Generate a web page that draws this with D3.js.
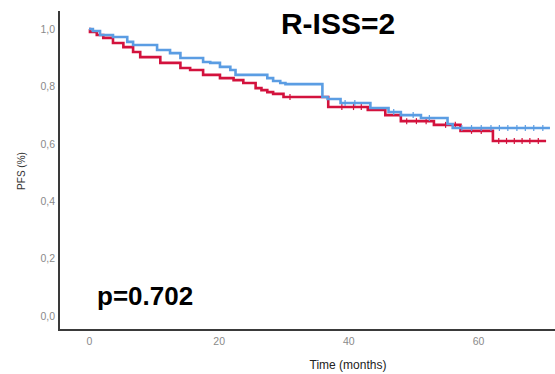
<!DOCTYPE html>
<html lang="en">
<script src="https://d3js.org/d3.v7.min.js"></script>
<head>
    <meta charset="UTF-8">
    <title>R-ISS=2</title>
    <style>
        body { margin: 0; background: #fff; }
        svg { display: block; font-family: "Liberation Sans", Arial, sans-serif; }
    </style>
</head>
<body>
    <svg width="555" height="374" id="chart"></svg>

    <script>
        // data
        const blueTimes = [0, 0.6, 1.7, 3.7, 5.9, 6.8, 10.5, 12.5, 14.1, 17.6, 18.7, 20.2, 21.8, 22.6, 27.5, 28.4, 29.5, 30.3, 36.0, 36.8, 38.8, 43.4, 46.2, 48.1, 51.2, 55.3, 56.1, 71.1];
        const blueSurv  = [1.0, 0.993, 0.979, 0.972, 0.955, 0.944, 0.927, 0.916, 0.899, 0.885, 0.882, 0.868, 0.857, 0.840, 0.829, 0.819, 0.812, 0.808, 0.763, 0.756, 0.742, 0.725, 0.711, 0.700, 0.690, 0.669, 0.655, 0.655];
        const redTimes  = [0, 0.15, 1.2, 2.2, 3.7, 5.3, 6.8, 7.9, 11.0, 14.1, 15.6, 17.6, 20.2, 22.3, 23.8, 25.7, 26.6, 27.5, 28.4, 30.0, 36.9, 43.0, 45.7, 48.1, 53.2, 57.3, 62.3, 70.5];
        const redSurv   = [1.0, 0.990, 0.979, 0.969, 0.951, 0.937, 0.920, 0.902, 0.882, 0.864, 0.857, 0.840, 0.829, 0.822, 0.812, 0.794, 0.787, 0.780, 0.774, 0.763, 0.728, 0.718, 0.700, 0.679, 0.666, 0.645, 0.610, 0.610];
        const blueCensor = [39.5, 41, 47, 50, 52.5, 57.5, 59, 60.5, 62, 63.3, 64.6, 66, 67.3, 68.6, 70];
        const redCensor  = [31, 39, 40.8, 42, 49, 50.5, 52, 55, 56.5, 59, 60.5, 63.2, 64.4, 65.6, 66.8, 68, 69.3];
        const xTicks = [0, 20, 40, 60];
        const yTicks = [0, 0.2, 0.4, 0.6, 0.8, 1.0];

        const svg = d3.select('#chart');

        const x = d3.scaleLinear().domain([0, 60]).range([89, 478]);
        const y = d3.scaleLinear().domain([0, 1]).range([316, 29]);

        const blueColor = "#5b9de3";
        const redColor = "#d3123d";

        // axes lines
        svg.append("line")
            .attr("x1", 59).attr("y1", 11)
            .attr("x2", 59).attr("y2", 330)
            .attr("stroke", "#3a3a3a").attr("stroke-width", 2);
        svg.append("line")
            .attr("x1", 58).attr("y1", 330)
            .attr("x2", 555).attr("y2", 330)
            .attr("stroke", "#3a3a3a").attr("stroke-width", 2);

        // tick labels
        const yAxis = d3.axisLeft(y).tickValues(yTicks).tickSize(0).tickPadding(0)
            .tickFormat(d => d3.format(".1f")(d).replace(".", ","));
        const gy = svg.append("g").attr("transform", "translate(55,0)").call(yAxis);
        gy.select(".domain").remove();
        gy.selectAll("text").attr("fill", "#8a8a8a").style("font-size", "10.5px")
            .style("font-family", "\"Liberation Sans\", Arial, sans-serif");

        const xAxis = d3.axisBottom(x).tickValues(xTicks).tickSize(0).tickPadding(0)
            .tickFormat(d3.format("d"));
        const gx = svg.append("g").attr("transform", "translate(0,338)").call(xAxis);
        gx.select(".domain").remove();
        gx.selectAll("text").attr("fill", "#8a8a8a").style("font-size", "10.5px")
            .style("font-family", "\"Liberation Sans\", Arial, sans-serif");

        // axis titles
        svg.append("text")
            .attr("x", 348).attr("y", 369)
            .attr("text-anchor", "middle")
            .attr("fill", "#222")
            .style("font-size", "12px")
            .text("Time (months)");
        svg.append("text")
            .attr("transform", "translate(25,171) rotate(-90)")
            .attr("text-anchor", "middle")
            .attr("fill", "#333")
            .style("font-size", "10px")
            .text("PFS (%)");

        // curves
        const line = d3.line()
            .x(d => x(d[0]))
            .y(d => y(d[1]))
            .curve(d3.curveStepAfter);

        function survAt(times, surv, t) {
            let s = surv[0];
            for (let i = 0; i < times.length; i++) {
                if (times[i] <= t) s = surv[i];
            }
            return s;
        }

        const series = [
            {times: redTimes, surv: redSurv, censor: redCensor, color: redColor},
            {times: blueTimes, surv: blueSurv, censor: blueCensor, color: blueColor},
        ];

        series.forEach(s => {
            const pts = s.times.map((t, i) => [t, s.surv[i]]);
            svg.append("path")
                .attr("d", line(pts))
                .attr("fill", "none")
                .attr("stroke", s.color)
                .attr("stroke-width", 2.6);

            s.censor.forEach(t => {
                const v = survAt(s.times, s.surv, t);
                svg.append("line")
                    .attr("x1", x(t)).attr("x2", x(t))
                    .attr("y1", y(v) - 3).attr("y2", y(v) + 3)
                    .attr("stroke", s.color)
                    .attr("stroke-width", 1.2);
            });
        });

        // annotations
        svg.append("text")
            .attr("x", 338).attr("y", 34)
            .attr("text-anchor", "middle")
            .attr("font-weight", "bold")
            .attr("fill", "#000")
            .style("font-size", "30px")
            .text("R-ISS=2");
        svg.append("text")
            .attr("x", 97).attr("y", 305)
            .attr("font-weight", "bold")
            .attr("fill", "#000")
            .style("font-size", "26px")
            .text("p=0.702");
    </script>
</body>
</html>
